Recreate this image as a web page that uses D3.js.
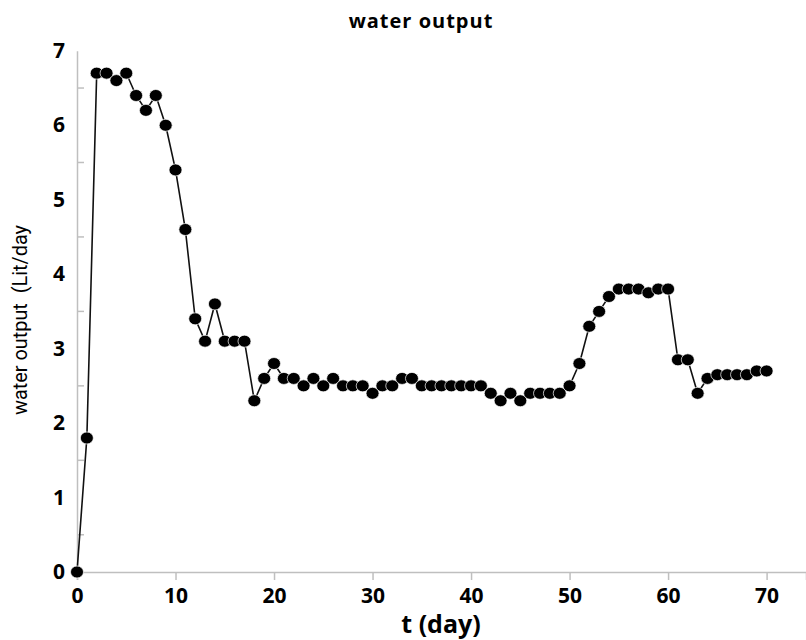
<!DOCTYPE html>
<html>
<head>
<meta charset="utf-8">
<script src="https://cdn.jsdelivr.net/npm/d3@7"></script>
<style>
  html, body { margin: 0; padding: 0; background: #fff; }
  #chart { width: 806px; height: 640px; }
</style>
</head>
<body>
<div id="chart"></div>
<script>
// data ---------------------------------------------------------------------------------------
const days = d3.range(0, 71);
const waterOutput = [
  0, 1.8, 6.7, 6.7, 6.6, 6.7, 6.4, 6.2, 6.4, 6.0,
  5.4, 4.6, 3.4, 3.1, 3.6, 3.1, 3.1, 3.1, 2.3, 2.6,
  2.8, 2.6, 2.6, 2.5, 2.6, 2.5, 2.6, 2.5, 2.5, 2.5,
  2.4, 2.5, 2.5, 2.6, 2.6, 2.5, 2.5, 2.5, 2.5, 2.5,
  2.5, 2.5, 2.4, 2.3, 2.4, 2.3, 2.4, 2.4, 2.4, 2.4,
  2.5, 2.8, 3.3, 3.5, 3.7, 3.8, 3.8, 3.8, 3.75, 3.8,
  3.8, 2.85, 2.85, 2.4, 2.6, 2.65, 2.65, 2.65, 2.65, 2.7,
  2.7
];
const xTicks = [0, 10, 20, 30, 40, 50, 60, 70];
const yTicks = [0, 1, 2, 3, 4, 5, 6, 7];
const yMinorTicks = [0.5, 1.5, 2.5, 3.5, 4.5, 5.5, 6.5];
const chartTitle = 'water output';
const xTitle = 't (day)';
const yTitle = 'water output  (Lit/day';

// svg ----------------------------------------------------------------------------------------
const width = 806;
const height = 640;
const margin = { top: 50, right: 0, bottom: 68, left: 77 };
const svg = d3.select('#chart').append('svg')
  .attr('width', width)
  .attr('height', height)
  .attr('viewBox', '0 0 ' + width + ' ' + height);

// scales -------------------------------------------------------------------------------------
const xScale = d3.scaleLinear()
  .domain([0, 74])
  .range([margin.left, width - margin.right]);
const yScale = d3.scaleLinear()
  .domain([0, 7])
  .range([height - margin.bottom, margin.top + 0.8]);

const axisColor = '#bfbfbf';
const labelFont = '"Open Sans", "DejaVu Sans", sans-serif';

// x axis -------------------------------------------------------------------------------------
const xAxis = svg.append('g')
  .attr('transform', 'translate(0,' + yScale(0) + ')')
  .call(d3.axisBottom(xScale).tickValues(xTicks).tickFormat(d3.format('d')).tickSize(8).tickPadding(8));
xAxis.select('.domain').attr('stroke', axisColor).attr('stroke-width', 1.5);
xAxis.selectAll('.tick line').attr('stroke', axisColor).attr('stroke-width', 1.5);
xAxis.selectAll('text')
  .attr('fill', '#000')
  .attr('font-family', labelFont)
  .attr('font-weight', 'bold')
  .attr('font-size', '21px');

// y axis (labels on integers, tick marks on halves, pointing inside) -------------------------
const yAxis = svg.append('g')
  .attr('transform', 'translate(' + xScale(0) + ',0)')
  .call(d3.axisLeft(yScale).tickValues(yTicks).tickFormat(d3.format('d')).tickSize(0).tickPadding(12));
yAxis.select('.domain').attr('stroke', axisColor).attr('stroke-width', 1.5);
yAxis.selectAll('text')
  .attr('fill', '#000')
  .attr('font-family', labelFont)
  .attr('font-weight', 'bold')
  .attr('font-size', '21px');
svg.append('g')
  .selectAll('line')
  .data(yMinorTicks)
  .enter()
  .append('line')
  .attr('x1', xScale(0))
  .attr('x2', xScale(0) + 7)
  .attr('y1', d => yScale(d))
  .attr('y2', d => yScale(d))
  .attr('stroke', axisColor)
  .attr('stroke-width', 1.5);

// line ---------------------------------------------------------------------------------------
const points = days.map((d, i) => ({ x: d, y: waterOutput[i] }));
svg.append('path')
  .datum(points)
  .attr('fill', 'none')
  .attr('stroke', '#111')
  .attr('stroke-width', 1.6)
  .attr('d', d3.line().x(d => xScale(d.x)).y(d => yScale(d.y)));

// markers ------------------------------------------------------------------------------------
svg.append('g')
  .selectAll('ellipse')
  .data(points)
  .enter()
  .append('ellipse')
  .attr('cx', d => xScale(d.x))
  .attr('cy', d => yScale(d.y))
  .attr('rx', 6.5)
  .attr('ry', 6)
  .attr('fill', '#000')
  .attr('stroke', '#fff')
  .attr('stroke-width', 0.7);

// titles -------------------------------------------------------------------------------------
svg.append('text')
  .attr('x', 421)
  .attr('y', 28)
  .attr('text-anchor', 'middle')
  .attr('font-family', labelFont)
  .attr('font-weight', 'bold')
  .attr('font-size', '20px')
  .attr('letter-spacing', '1px')
  .text(chartTitle);
svg.append('text')
  .attr('x', 441)
  .attr('y', 633)
  .attr('text-anchor', 'middle')
  .attr('font-family', labelFont)
  .attr('font-weight', 'bold')
  .attr('font-size', '25px')
  .text(xTitle);
svg.append('text')
  .attr('transform', 'translate(27,' + 320 + ') rotate(-90)')
  .attr('text-anchor', 'middle')
  .attr('font-family', '"Roboto", "Liberation Sans", sans-serif')
  .attr('font-size', '20px')
  .attr('textLength', 190)
  .attr('lengthAdjust', 'spacingAndGlyphs')
  .style('white-space', 'pre')
  .text(yTitle);
</script>
</body>
</html>
